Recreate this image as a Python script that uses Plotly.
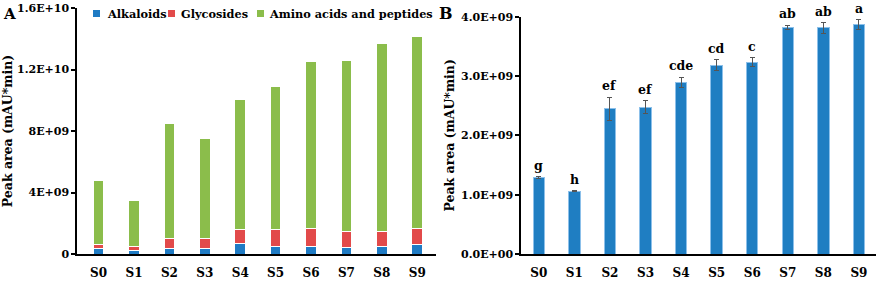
import plotly.graph_objects as go

samples = ["S0", "S1", "S2", "S3", "S4", "S5", "S6", "S7", "S8", "S9"]

# Panel A: stacked peak areas (mAU*min)
alkaloids = [0.39e9, 0.26e9, 0.35e9, 0.35e9, 0.66e9, 0.48e9, 0.52e9, 0.44e9, 0.52e9, 0.59e9]
glycosides = [0.20e9, 0.22e9, 0.65e9, 0.65e9, 0.94e9, 1.14e9, 1.14e9, 1.05e9, 0.97e9, 1.05e9]
totals_a = [4.79e9, 3.47e9, 8.46e9, 7.48e9, 10.08e9, 10.88e9, 12.49e9, 12.57e9, 13.66e9, 14.16e9]
amino = [t - a - g for t, a, g in zip(totals_a, alkaloids, glycosides)]

# Panel B: totals with error bars and significance letters
total_b = [1.293e9, 1.057e9, 2.445e9, 2.47e9, 2.895e9, 3.18e9, 3.23e9, 3.82e9, 3.81e9, 3.87e9]
err_b = [0.012e9, 0.01e9, 0.2e9, 0.11e9, 0.085e9, 0.095e9, 0.075e9, 0.04e9, 0.09e9, 0.08e9]
letters = ["g", "h", "ef", "ef", "cde", "cd", "c", "ab", "ab", "a"]

ticks_a = [0, 4e9, 8e9, 1.2e10, 1.6e10]
ticktext_a = ["0", "4E+09", "8E+09", "1.2E+10", "1.6E+10"]
ticks_b = [0, 1e9, 2e9, 3e9, 4e9]
ticktext_b = ["0.0E+00", "1.0E+09", "2.0E+09", "3.0E+09", "4.0E+09"]

series_names = ["Alkaloids", "Glycosides", "Amino acids and peptides"]
series_colors = ["#1f7bc4", "#e24a4a", "#8bbd4b"]

FONT = "DejaVu Serif"
W, H = 879, 282

fig = go.Figure()
series = [alkaloids, glycosides, amino]
for nm, s, c in zip(series_names, series, series_colors):
    fig.add_trace(go.Bar(
        x=samples, y=s, name=nm, marker=dict(color=c, line=dict(color="white", width=1)),
        width=0.3, xaxis="x", yaxis="y", showlegend=False,
    ))

fig.add_trace(go.Bar(
    x=samples, y=total_b, width=0.32, showlegend=False, xaxis="x2", yaxis="y2",
    name="Total",
    marker=dict(color="#1f7ec2", line=dict(color="#8cc0ea", width=1)),
    error_y=dict(type="data", array=err_b, color="#555555", thickness=1, width=2.5),
))

for s, v, e, lt in zip(samples, total_b, err_b, letters):
    fig.add_annotation(x=s, y=v + e, xref="x2", yref="y2", text=f"<b>{lt}</b>",
                       showarrow=False, yanchor="bottom", yshift=2,
                       font=dict(family=FONT, size=12.5, color="black"))

def px_x(p):
    return p / W

def px_y(p):
    return 1 - p / H

ytickfont = dict(family=FONT, size=11, color="black")
xtickfont = dict(family=FONT, size=12, color="black", weight="bold")
axis_common = dict(showline=True, linecolor="black", showgrid=False, zeroline=False,
                   automargin=False)
title_font = dict(family=FONT, size=12.5, color="black")

fig.update_layout(
    width=W, height=H, margin=dict(l=0, r=0, t=0, b=0, autoexpand=False),
    plot_bgcolor="white", paper_bgcolor="white", barmode="stack", showlegend=False,
    font=dict(family=FONT, color="black"),
    xaxis=dict(domain=[px_x(77), px_x(436)], anchor="y", range=[-0.61, 9.53],
               linewidth=2, ticks="", ticklabelstandoff=7, tickfont=xtickfont, **axis_common),
    yaxis=dict(domain=[px_y(254), px_y(8)], anchor="x", range=[0, 1.6e10],
               tickvals=ticks_a, ticktext=[f"<b>{t}</b>" for t in ticktext_a],
               linewidth=1.5, ticks="outside",
               ticklen=4, tickwidth=1.5, tickcolor="black", tickfont=ytickfont,
               title=dict(text="<b>Peak area (mAU*min)</b>", font=title_font, standoff=4),
               **axis_common),
    xaxis2=dict(domain=[px_x(521), px_x(876)], anchor="y2", range=[-0.5, 9.48],
                linewidth=2, ticks="", ticklabelstandoff=7, tickfont=xtickfont, **axis_common),
    yaxis2=dict(domain=[px_y(254), px_y(16.7)], anchor="x2", range=[0, 4e9],
                tickvals=ticks_b, ticktext=[f"<b>{t}</b>" for t in ticktext_b],
                linewidth=1.5, ticks="outside",
                ticklen=4, tickwidth=1.5, tickcolor="black", tickfont=ytickfont,
                title=dict(text="<b>Peak area (mAU*min)</b>", font=title_font, standoff=4),
                **axis_common),
)

# Legend for panel A (swatch + label per series)
legend_sq_x = [93, 168, 257]
legend_txt_x = [105, 179, 267]
for nm, c, sx, tx in zip(series_names, series_colors, legend_sq_x, legend_txt_x):
    fig.add_shape(type="rect", xref="paper", yref="paper",
                  x0=px_x(sx), x1=px_x(sx + 7), y0=px_y(17), y1=px_y(10),
                  fillcolor=c, line=dict(width=0))
    fig.add_annotation(x=px_x(tx), y=px_y(14), xref="paper", yref="paper", text=f"<b>{nm}</b>",
                       showarrow=False, xanchor="left", yanchor="middle",
                       font=dict(family=FONT, size=11.3, color="black"))

fig.add_annotation(x=px_x(1), y=px_y(14), xref="paper", yref="paper", text="<b>A</b>",
                   showarrow=False, xanchor="left", yanchor="middle",
                   font=dict(family=FONT, size=15, color="black"))
fig.add_annotation(x=px_x(446), y=px_y(13), xref="paper", yref="paper", text="<b>B</b>",
                   showarrow=False, xanchor="center", yanchor="middle",
                   font=dict(family=FONT, size=16, color="black"))

fig.write_html("out.html", config={"displayModeBar": False},
               post_script="document.body.style.margin='0';document.body.style.padding='0';")
